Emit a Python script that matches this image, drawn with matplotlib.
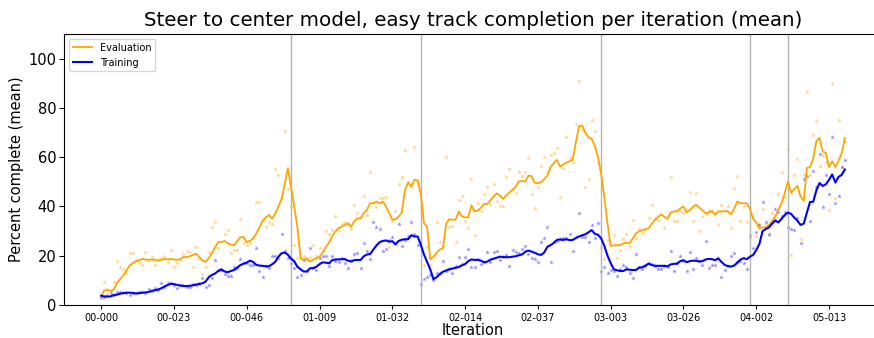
import numpy as np
import matplotlib
matplotlib.use("Agg")
import matplotlib.pyplot as plt

# smoothed per-iteration completion (%)
eval_smooth = [
    3.4, 6, 6, 5.8, 6.2, 9, 10.5, 12, 14, 16, 17, 17.8, 18.2, 18.7, 18.5, 18.3, 18.5, 18.3, 18, 18.2,
    18.8, 18.5, 18.7, 18.5, 18.3, 18.6, 19.5, 19.4, 19.8, 20.3, 20.8, 19.5, 18, 17.5, 19, 21, 23.5, 25.5, 25.5, 26,
    25, 24.5, 24.3, 26, 27.5, 27.6, 25.5, 26, 27, 29, 31.5, 34, 35.5, 36.5, 35, 37, 40, 43, 49, 55.5,
    48, 40, 31.8, 19, 18.3, 19, 17.6, 18.5, 19, 19.6, 21.3, 23.7, 25.3, 27.8, 29.8, 31.2, 31.8, 32.5, 33.2, 31.8,
    33.9, 35.2, 35.2, 37.3, 38.6, 41.3, 41.3, 42, 41.3, 42, 40, 37.3, 34.6, 34.8, 35.9, 37.5, 46.7, 49.7, 48, 50.8, 50.5,
    45, 33.2, 31.8, 18.5, 19.5, 21.2, 22.5, 23, 33, 34.8, 34.6, 34.6, 38, 36, 35.5, 35.6, 40.5, 38, 38.3, 39.5,
    41, 41, 42.5, 44, 45.3, 44.5, 43, 44.5, 45.6, 46.8, 48, 50.2, 50.3, 50.1, 52.5, 52.3, 49.6, 49.5, 49.8, 51,
    52.5, 56, 57.5, 58.9, 56.2, 57, 57.8, 58.3, 59, 66, 72.5, 72.8, 70, 68, 67.5, 64.5, 60,
    53, 44, 33, 24, 24.2, 24.3, 24.3, 25, 25.3, 25, 27, 29, 29.9, 30.4, 30.8, 31.1, 33, 34.5, 35.8, 36.6,
    35.8, 35, 37.6, 38, 38, 39.2, 40, 37.6, 38.5, 39.8, 40.7, 39.5, 38.4, 37.2, 37.6, 38, 36.6, 38, 38, 38,
    38.1, 36.8, 39, 42, 41.3, 41.3, 41.3,
    39, 35, 33.5, 31, 31.5, 31.5, 32.5, 34, 36, 38.6, 41.3, 45.4,
    50.1, 45.5, 47, 48.4, 44, 42.3, 55.6, 56, 59.5, 66.5, 67.8, 62.3, 61.7, 56, 58.3, 56, 58.5, 61.5, 67.8,
]
train_smooth = [
    3.8, 3.5, 3.4, 3.5, 4, 4.2, 4.6, 4.8, 5, 5, 4.9, 4.7, 4.8, 5, 5.1, 5.3, 5.7, 6, 6.3, 6.8,
    7.5, 8.1, 8.6, 8.5, 8.2, 7.9, 7.7, 7.7, 7.8, 8, 8.3, 8.6, 8.8, 9.5, 11.3, 12.2, 12.8, 13.8, 14.5, 13.6,
    13.3, 13.8, 14.2, 15.2, 16.2, 16.8, 17.2, 18, 17.5, 16.3, 16, 15.9, 15.7, 15.7, 16.5, 17.5, 19.6, 21, 21.3, 20.4,
    18.8, 17.8, 15.5, 14.5, 13.6, 13.6, 14.9, 15, 15.5, 16.6, 17.3, 17.2, 16.9, 18.2, 18.5, 18.5, 18.6, 18.6, 18, 17.7,
    18.2, 18.3, 18.3, 19.8, 20.5, 20.7, 22.5, 24.2, 25.5, 26, 26.2, 25.7, 25.9, 24.6, 26, 26.5, 26.7, 26.7, 28.3, 27.8, 27.8,
    24.5, 20.5, 17.5, 14.4, 10.5, 11.3, 12.5, 13.5, 14, 14.5, 14.8, 15.1, 15.4, 16.1, 16.6, 17.8, 18.5, 18.3, 18.3, 18,
    17.3, 17.6, 18.4, 18.8, 19.2, 19.6, 19.5, 19.4, 19.4, 19.6, 19.8, 20.2, 20.5, 21.6, 22.1, 21.7, 21.2, 20.6, 20.3, 21.3,
    23.6, 24.3, 25.2, 26.4, 26.6, 26.4, 26.7, 26.3, 26.4, 27.2, 27.8, 28.3, 28.7, 29.5, 30.4, 28.9, 28.5,
    27, 24, 20, 17, 14.5, 14.1, 13.8, 13.8, 14.5, 14.3, 14.2, 14.2, 15.2, 15.3, 16, 16.8, 16.2, 15.9, 15.9, 15.9,
    15.9, 15.7, 16.5, 16.7, 16.8, 17.8, 18.2, 17.4, 17.8, 18, 17.9, 17.7, 17.8, 18.5, 18.7, 18.6, 18.2, 18.9, 17.5, 16.3,
    15.8, 15.6, 16, 17.2, 18.4, 19, 18.6,
    19.6, 20.3, 22.3, 24.8, 30, 30.8, 31.5, 33, 34.3, 33.5, 35, 36.5,
    37.5, 37, 35.5, 34.2, 32.5, 33, 37.5, 41.8, 41.9, 46.5, 49.5, 48.3, 49, 50.8, 53, 49.7, 52, 52.8, 55,
]
# raw per-iteration means (the faint dots)
eval_raw = [
    2.7, 9.2, 6.5, 5.5, 9.5, 18, 15.6, 14.5, 12.9, 21.3, 21, 18.3, 17.5, 16.3, 21.7, 18.3, 19.5, 16.3, 18.5, 19,
    20, 17.5, 22.4, 15.6, 16.9, 18.3, 20.5, 22, 21.7, 15.6, 23.7, 19, 12.5, 15.6, 21.4, 31.6, 33.5, 23, 14.2, 29,
    30.5, 21.3, 22.4, 22.4, 35, 25, 24.5, 25, 27.5, 42, 41.6, 34.5, 31.8, 33.5, 32.8, 55, 52.6, 43, 70.5, 47,
    40, 24.4, 19, 18.6, 20, 18.3, 19.5, 24.4, 20, 23, 22, 30, 28.9, 30.5, 36.3, 30.5, 32.8, 33.5, 32.5, 30.9,
    40.4, 37.5, 35.9, 44.4, 36.6, 53.9, 41.3, 39.7, 43.4, 43.4, 44, 23.7, 33.9, 38.3, 49.3, 51.9, 63, 50, 48.8, 64, 49,
    40, 16.3, 23.7, 16.3, 10.4, 33.5, 25.7, 24, 59.9, 31.8, 32.2, 25.7, 42.7, 44.4, 34.1, 31.4, 51.2, 28.5, 41.3, 38,
    45, 47.7, 41, 49.2, 42.3, 40, 40.3, 51.8, 55.1, 47, 45.4, 53.8, 52.2, 53.9, 59.6, 45.1, 39.3, 47.8, 56.6, 60,
    54, 61, 61.7, 63.7, 44, 55.6, 68, 59.6, 58, 73.4, 91, 71, 47.8, 51, 75, 70.7, 58,
    23.7, 18.6, 26.4, 16.3, 28.5, 19.2, 22.4, 26.8, 28.9, 24, 34.6, 27, 30.8, 29.1, 30.1, 35.5, 40.7, 35.5, 34.6, 37,
    31.2, 36, 51.8, 33.9, 33.9, 38, 37.5, 39, 46, 33.9, 45.5, 30.1, 36.3, 37, 38.6, 38.6, 37.5, 32.8, 40.4, 38.5,
    40.3, 31.4, 47.4, 52.4, 33.9, 40, 33.6,
    27, 35.6, 28.2, 32.8, 39, 32.5, 28.5, 37.4, 35.5, 45, 53.9, 44,
    63.3, 20.3, 52.6, 59.3, 26.8, 52.6, 86.4, 52.6, 69, 74.5, 56.6, 60.3, 58, 38.6, 89.8, 43.4, 74.9, 56, 66,
]
train_raw = [
    3.4, 3.4, 4, 4.7, 4, 5.4, 5.4, 5.4, 4.7, 4, 4.7, 5, 5.4, 5.4, 5, 6.4, 5.5, 6.8, 6, 8.8,
    7.5, 8.8, 8.8, 8, 6.8, 8.1, 8.1, 7.5, 7.5, 8.5, 8.1, 8.5, 10.8, 7.5, 8.1, 11, 18.3, 14.2, 14.2, 12.5,
    11.8, 11.8, 15.3, 15, 18.6, 16.9, 17, 16.3, 16.3, 23, 13.6, 11.5, 16, 15, 20, 20, 19, 28.9, 22, 19,
    17, 14.9, 11.5, 12, 18.3, 14, 23, 15, 14.2, 19, 20, 20, 15.9, 20, 18, 17.5, 19, 17.2, 15.2, 18,
    20.7, 21.3, 15.2, 25, 22, 18.6, 33.5, 31.5, 30.8, 22, 22.6, 26.4, 27.8, 25, 32.8, 24.1, 26.4, 28, 33.6, 29, 24.3,
    8.5, 10.4, 11.5, 12, 10.2, 13.1, 13.1, 17.9, 13.8, 14.5, 13.1, 16, 19.4, 16.5, 19.6, 22.6, 15.3, 15.3, 18.5, 16.5,
    17.3, 21.4, 17.3, 21.4, 22, 18.3, 19.6, 20.3, 15.9, 22.4, 21.7, 21.3, 22.8, 24.1, 20.7, 19, 18.7, 17.6, 25.7, 27.1,
    31.6, 17.6, 25.7, 26, 26.7, 27.1, 27.1, 28.7, 22, 27.4, 37.3, 27.8, 27.8, 25.7, 32.5, 27.1, 33.2,
    13.6, 15.3, 12.9, 14.2, 14, 11.8, 14.5, 16.3, 15.3, 13.1, 10.8, 20.6, 15.3, 14.5, 16, 17, 16.7, 16, 14.5, 14.5,
    16, 15.5, 22, 14, 17, 19.9, 18, 14, 21.7, 14.5, 19, 17.9, 16.3, 26, 15.2, 16.3, 16.3, 19, 11.5, 14.2,
    16, 20, 21, 17.6, 18, 16.9, 14.5,
    28.3, 23, 29.5, 32.5, 41.6, 33.5, 28.9, 33.5, 39, 37.9, 36, 37.9,
    31.8, 30.9, 30.5, 35.5, 25.3, 51.2, 52.2, 33.9, 54.5, 48, 61.2, 39.6, 52.8, 45.1, 68, 41.3, 44.4, 56, 59,
]
# first iteration index of each training run
run_starts = [0, 60, 101, 158, 205, 217]
tick_pos = [0, 23, 46, 69, 92, 115, 138, 161, 184, 207, 230]
tick_labels = ['00-000', '00-023', '00-046', '01-009', '01-032', '02-014',
               '02-037', '03-003', '03-026', '04-002', '05-013']

x = np.arange(len(eval_smooth))

fig = plt.figure(figsize=(8.74, 3.38), dpi=100)
ax = fig.add_axes([0.0732, 0.0976, 0.936, 0.802])

for s in run_starts[1:]:
    ax.axvline(s, color='#b4b4b4', lw=1)

ax.scatter(x, eval_raw, color='orange', marker='*', s=12, alpha=0.5, lw=0)
ax.scatter(x, train_raw, color='blue', marker='*', s=12, alpha=0.45, lw=0)
ax.plot(x, eval_smooth, color='orange', lw=1.3, label='Evaluation')
ax.plot(x, train_smooth, color='blue', lw=1.5, label='Training')

ax.set_ylim(0, 110)
ax.set_xticks(tick_pos)
ax.set_xticklabels(tick_labels, fontsize=7)
ax.tick_params(axis='x', length=3, pad=2.5)
ax.tick_params(axis='y', labelsize=10.5, pad=2)
ax.set_xlabel('Iteration', fontsize=10.5, labelpad=0.5)
ax.set_ylabel('Percent complete (mean)', fontsize=10.5, labelpad=3)
ax.set_title('Steer to center model, easy track completion per iteration (mean)', fontsize=14.3)
ax.legend(loc='upper left', fontsize=7)

fig.savefig('out.png', dpi=100)
